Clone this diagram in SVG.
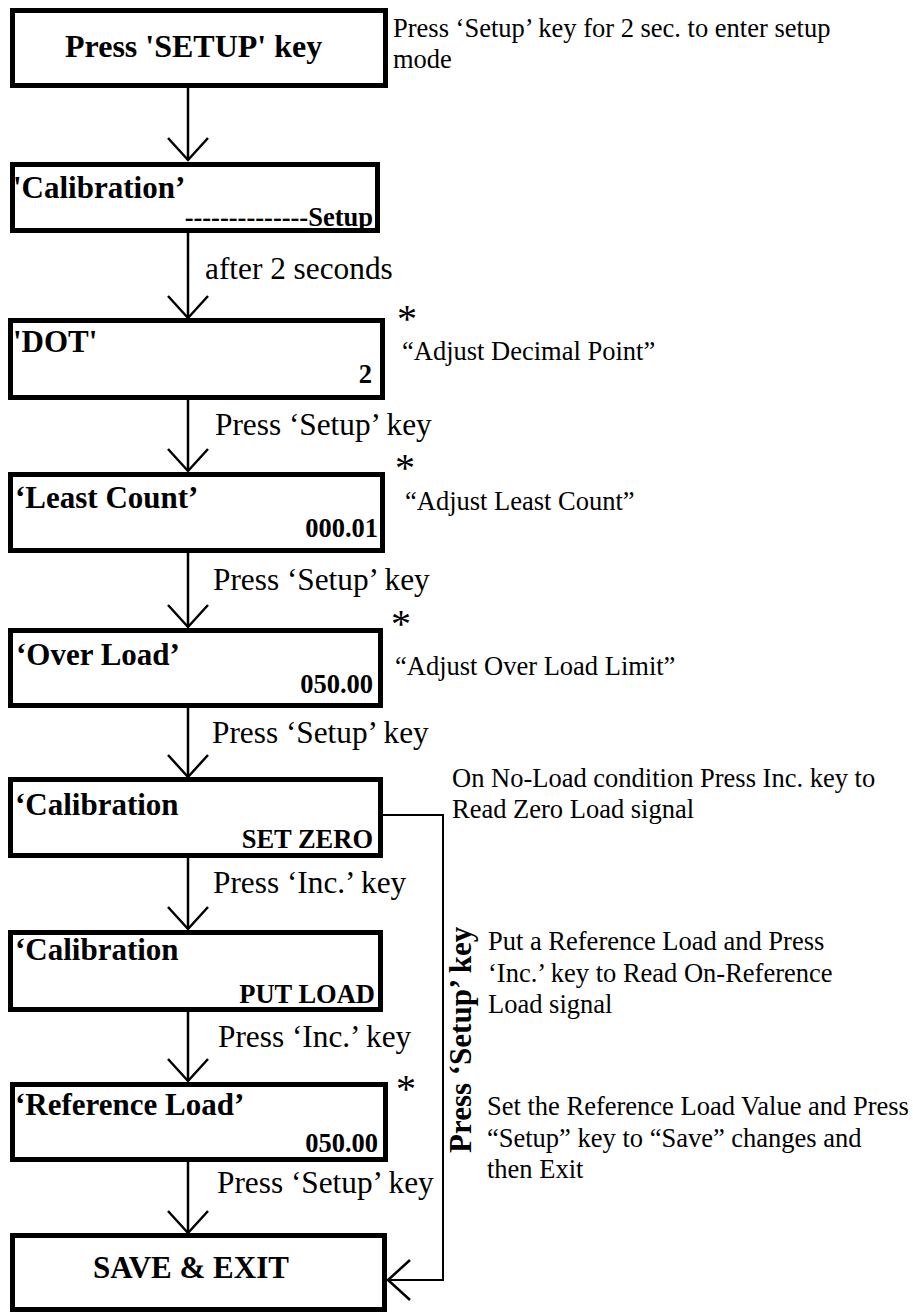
<svg xmlns="http://www.w3.org/2000/svg" width="913" height="1313" viewBox="0 0 913 1313">
<style>
text{font-family:"Liberation Serif","Times New Roman",serif;fill:#000}
.box{fill:#fff;stroke:#000;stroke-width:5}
.b{font-weight:bold;font-size:31px}
.t{font-weight:bold;font-size:32px}
.v{font-weight:bold;font-size:26.5px;text-anchor:end}
.l{font-size:31.3px}
.n{font-size:26.5px}
.s{font-size:40px;text-anchor:middle}
.c{fill:none;stroke:#000;stroke-width:2.5}
.c2{fill:none;stroke:#000;stroke-width:2}
</style>
<defs>
<marker id="v" viewBox="-24 -22 26 44" refX="0" refY="0" markerWidth="26" markerHeight="44" markerUnits="userSpaceOnUse" orient="auto">
<path d="M-22,-20 L0,0 L-22,20" fill="none" stroke="#000" stroke-width="2.5"/>
</marker>
</defs>
<g id="connectors">
<path class="c" d="M188,88 V160" marker-end="url(#v)"/>
<path class="c" d="M188,233 V318" marker-end="url(#v)"/>
<path class="c" d="M188,400 V471" marker-end="url(#v)"/>
<path class="c" d="M188,553 V627" marker-end="url(#v)"/>
<path class="c" d="M188,705 V777" marker-end="url(#v)"/>
<path class="c" d="M188,858 V929" marker-end="url(#v)"/>
<path class="c" d="M188,1010 V1081" marker-end="url(#v)"/>
<path class="c" d="M188,1160 V1233" marker-end="url(#v)"/>
<path class="c2" d="M383,815 H443 V1280 H388" marker-end="url(#v)"/>
<text class="l" x="205" y="279">after 2 seconds</text>
<text class="l" x="215" y="435">Press ‘Setup’ key</text>
<text class="l" x="213" y="590">Press ‘Setup’ key</text>
<text class="l" x="212" y="743">Press ‘Setup’ key</text>
<text class="l" x="213" y="893">Press ‘Inc.’ key</text>
<text class="l" x="218" y="1047">Press ‘Inc.’ key</text>
<text class="l" x="217" y="1193">Press ‘Setup’ key</text>
<text class="b" transform="translate(471,1153) rotate(-90)">Press ‘Setup’ key</text>
</g>
<g id="n1">
<rect class="box" x="12.5" y="10.5" width="373" height="75"/>
<text class="t" x="65" y="57">Press 'SETUP' key</text>
</g>
<g id="n2">
<rect class="box" x="12.5" y="164.5" width="365" height="66"/>
<text class="b" x="13" y="198">'Calibration’</text>
<text class="v" x="373" y="226">--------------Setup</text>
</g>
<g id="n3">
<rect class="box" x="10.5" y="320.5" width="372" height="77"/>
<text class="b" x="13" y="352">'DOT'</text>
<text class="v" x="372" y="383">2</text>
</g>
<g id="n4">
<rect class="box" x="10.5" y="474.5" width="372" height="76"/>
<text class="b" x="15" y="508">‘Least Count’</text>
<text class="v" x="378" y="537">000.01</text>
</g>
<g id="n5">
<rect class="box" x="10.5" y="630.5" width="370" height="75"/>
<text class="b" x="16" y="665">‘Over Load’</text>
<text class="v" x="373" y="693">050.00</text>
</g>
<g id="n6">
<rect class="box" x="10.5" y="779.5" width="370" height="76"/>
<text class="b" x="15" y="815">‘Calibration</text>
<text class="v" x="373" y="848">SET ZERO</text>
</g>
<g id="n7">
<rect class="box" x="10.5" y="932.5" width="370" height="77"/>
<text class="b" x="15" y="960">‘Calibration</text>
<text class="v" x="375" y="1003">PUT LOAD</text>
</g>
<g id="n8">
<rect class="box" x="12.5" y="1084.5" width="373" height="75"/>
<text class="b" x="15" y="1115">‘Reference Load’</text>
<text class="v" x="378" y="1152">050.00</text>
</g>
<g id="n9">
<rect class="box" x="12.5" y="1235.5" width="372" height="74"/>
<text class="b" x="191" y="1278" text-anchor="middle">SAVE &amp; EXIT</text>
</g>
<g id="notes">
<text class="n" x="393" y="37">Press ‘Setup’ key for 2 sec. to enter setup</text>
<text class="n" x="393" y="68">mode</text>
<text class="s" x="407" y="332">*</text>
<text class="n" x="402" y="360">“Adjust Decimal Point”</text>
<text class="s" x="405" y="481">*</text>
<text class="n" x="405" y="510">“Adjust Least Count”</text>
<text class="s" x="401" y="637">*</text>
<text class="n" x="395" y="675">“Adjust Over Load Limit”</text>
<text class="n" x="452" y="787">On No-Load condition Press Inc. key to</text>
<text class="n" x="452" y="818">Read Zero Load signal</text>
<text class="n" x="488" y="950">Put a Reference Load and Press</text>
<text class="n" x="488" y="982">‘Inc.’ key to Read On-Reference</text>
<text class="n" x="488" y="1013">Load signal</text>
<text class="s" x="406" y="1102">*</text>
<text class="n" x="487" y="1115">Set the Reference Load Value and Press</text>
<text class="n" x="487" y="1147">“Setup” key to “Save” changes and</text>
<text class="n" x="487" y="1178">then Exit</text>
</g>
</svg>
